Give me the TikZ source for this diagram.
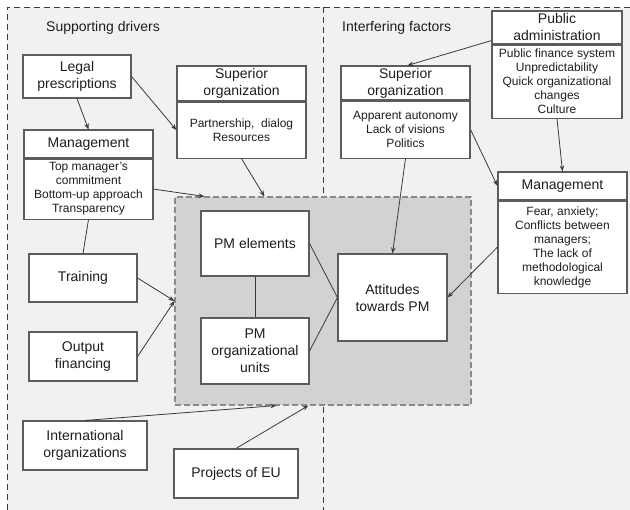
\documentclass[tikz,border=0pt]{standalone}
\usepackage{fontspec}
\setmainfont{Liberation Sans}
\usetikzlibrary{arrows.meta}
\definecolor{paper}{HTML}{F1F1F1}
\definecolor{zonefill}{HTML}{D2D2D2}
\definecolor{zoneline}{HTML}{8A8A8A}
\definecolor{boxline}{HTML}{5C5C5C}
\definecolor{linecol}{HTML}{3A3A3A}
\definecolor{ink}{HTML}{1E1E1E}
\begin{document}
\begin{tikzpicture}[x=1pt,y=-1pt,
  box/.style={draw=boxline, fill=white, line width=1.1pt, inner sep=0pt, align=center, text=ink, font=\fontsize{14}{17}\selectfont},
  body/.style={box, font=\fontsize{12}{14}\selectfont},
  zone/.style={draw=zoneline, fill=zonefill, line width=1.1pt, dash pattern=on 6pt off 3pt, inner sep=0pt},
  outline/.style={draw=linecol, line width=0.9pt, dash pattern=on 6pt off 4pt},
  caption/.style={anchor=west, inner sep=0pt, text=ink, font=\fontsize{14}{17}\selectfont},
  conn/.style={draw=linecol, line width=0.8pt},
  arr/.style={conn, -{Stealth[length=6pt,width=4.5pt]}}]
\useasboundingbox (0,0) rectangle (630,510);
\fill [paper] (7,7) rectangle (630,510);
\draw [outline] (630,7) -- (7,7) -- (7,510);
\draw [outline] (323,7) -- (323,510);
\node [caption] (drivers) at (46,28) {Supporting drivers};
\node [caption] (factors) at (342,28) {Interfering factors};
\node [zone, minimum width=296pt, minimum height=208pt] (pmzone) at (323,301) {};
\node [box, minimum width=108pt, minimum height=43pt] (legal) at (77,76.5) {Legal\\prescriptions};
\node [box, minimum width=129pt, minimum height=35pt] (supLt) at (241.5,83.5) {Superior\\organization};
\node [body, minimum width=129pt, minimum height=56pt, anchor=north] (supLb) at (supLt.south) {Partnership,\ \ dialog\\Resources};
\node [box, minimum width=129pt, minimum height=28pt] (mgmtLt) at (88.5,144) {Management};
\node [body, minimum width=129pt, minimum height=60pt, anchor=north] (mgmtLb) at (mgmtLt.south) {Top manager's\\commitment\\Bottom-up approach\\Transparency};
\node [box, minimum width=108pt, minimum height=48pt] (training) at (83,278) {Training};
\node [box, minimum width=108pt, minimum height=49pt] (output) at (83,356.5) {Output\\financing};
\node [box, minimum width=124pt, minimum height=49pt] (intl) at (85,445.5) {International\\organizations};
\node [box, minimum width=124pt, minimum height=49pt] (projects) at (236,473.5) {Projects of EU};
\node [box, minimum width=108pt, minimum height=65pt] (pmel) at (255,243.5) {PM elements};
\node [box, minimum width=108pt, minimum height=66pt] (pmorg) at (255,351) {PM\\organizational\\units};
\node [box, minimum width=109pt, minimum height=87pt] (attitudes) at (392.5,297.5) {Attitudes\\towards PM};
\node [box, minimum width=129pt, minimum height=34pt] (supRt) at (405.5,83) {Superior\\organization};
\node [body, minimum width=129pt, minimum height=57pt, anchor=north] (supRb) at (supRt.south) {Apparent autonomy\\Lack of visions\\Politics};
\node [box, minimum width=130pt, minimum height=33pt] (pubT) at (557,27.5) {Public\\administration};
\node [body, minimum width=130pt, minimum height=73pt, anchor=north] (pubB) at (pubT.south) {Public finance system\\Unpredictability\\Quick organizational\\changes\\Culture};
\node [box, minimum width=129pt, minimum height=28pt] (mgmtRt) at (562.5,186) {Management};
\node [body, minimum width=129pt, minimum height=92pt, anchor=north] (mgmtRb) at (mgmtRt.south) {Fear, anxiety;\\Conflicts between\\managers;\\The lack of\\methodological\\knowledge};
\draw [arr] (legal.south) -- (mgmtLt.north);
\draw [arr] (legal.east) -- (supLb.west);
\draw [arr] (mgmtLb.east) -- ([xshift=30pt]pmzone.north west);
\draw [arr] (supLb.south) -- ([xshift=90pt]pmzone.north west);
\draw [conn] (mgmtLb.south) -- (training.north);
\draw [arr] (training.east) -- (pmzone.west);
\draw [arr] (output.east) -- (pmzone.west);
\draw [arr] (intl.north) -- ([xshift=102pt]pmzone.south west);
\draw [arr] (projects.north) -- ([xshift=134pt]pmzone.south west);
\draw [conn] (pmel.south) -- (pmorg.north);
\draw [conn] (pmel.east) -- (attitudes.west);
\draw [conn] (pmorg.east) -- (attitudes.west);
\draw [arr] (supRb.south) -- (attitudes.north);
\draw [arr] (supRb.east) -- (mgmtRt.west);
\draw [arr] ([yshift=4pt]pubT.south west) -- ([xshift=2pt]supRt.north);
\draw [arr] (pubB.south) -- (mgmtRt.north);
\draw [arr] (mgmtRb.west) -- (attitudes.east);
\end{tikzpicture}
\end{document}
